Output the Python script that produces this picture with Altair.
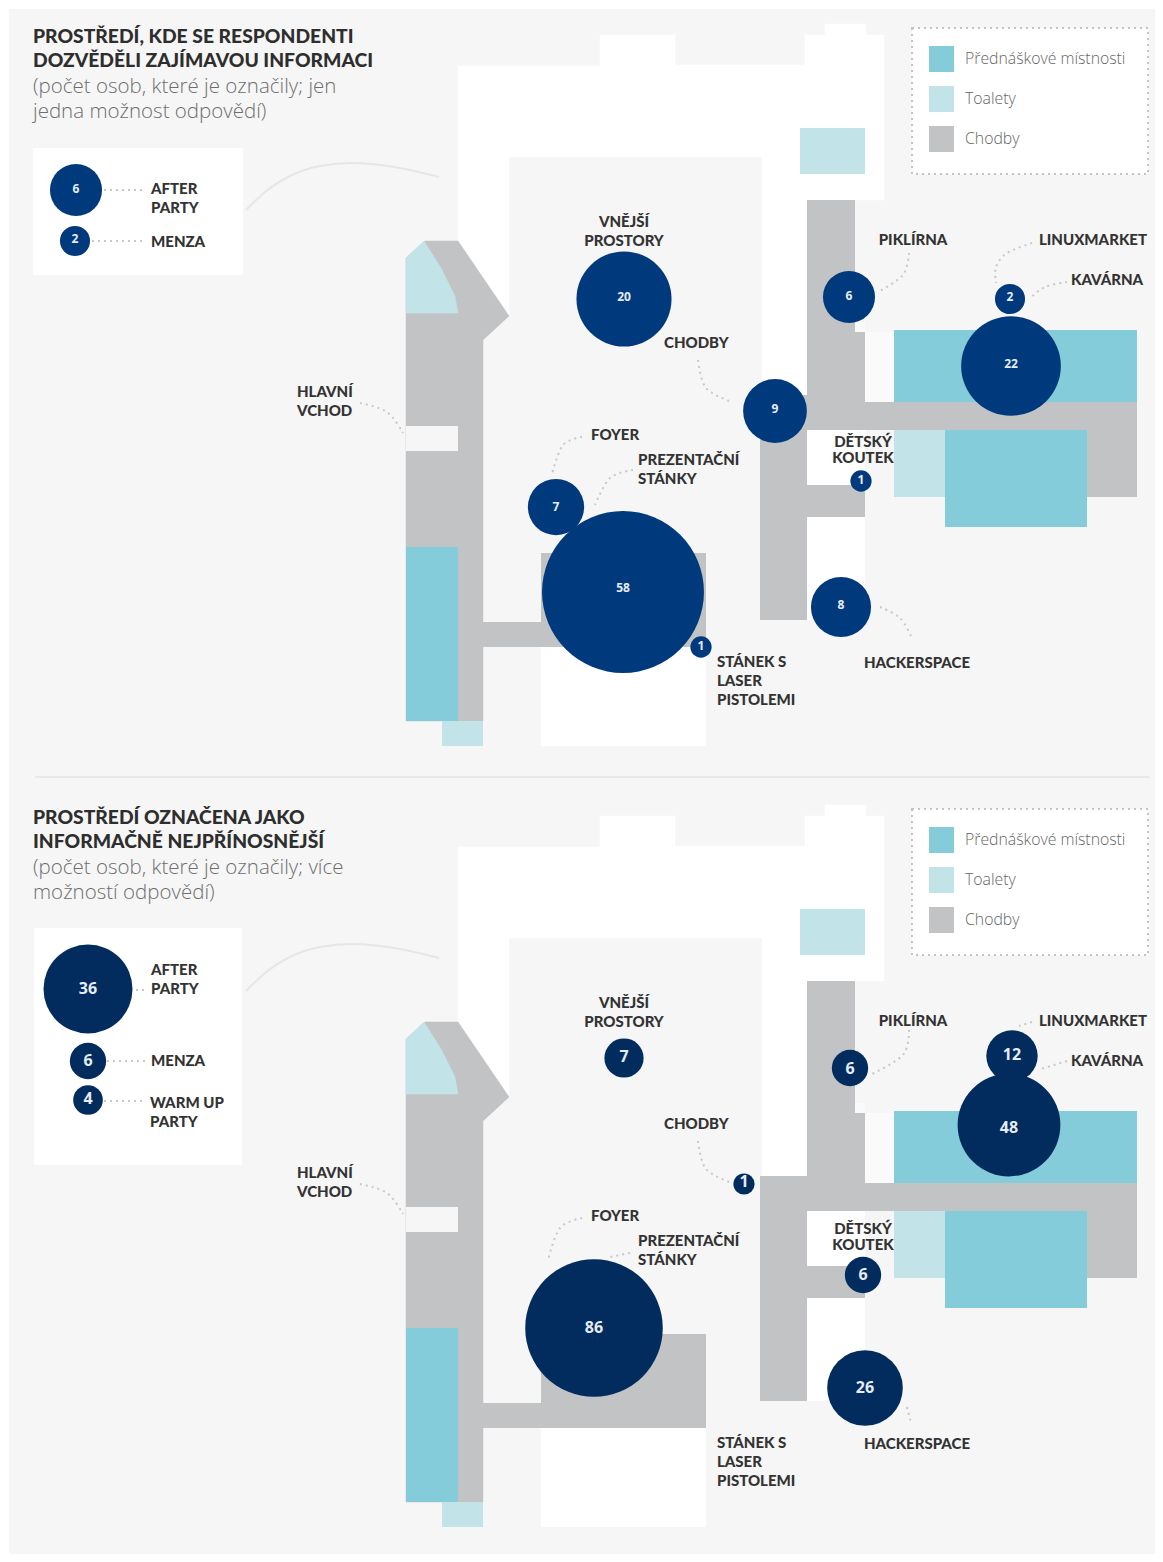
import altair as alt
import pandas as pd

# ---- floor plan (map coordinates; second panel repeats it lower on the page) ----
PANEL_SHIFT = 781
BG, WHITE, GRAY, TEAL, LIGHT = "#f6f6f6", "#ffffff", "#c2c3c5", "#84ccd9", "#c2e3e8"
PALE = "#fafafb"
DARK1, DARK2 = "#003a7d", "#022c5e"

outline_x = [458, 600, 600, 675, 675, 805, 805, 825, 825, 866, 866, 884, 884, 807, 807, 762, 762, 509, 509, 458]
outline_y = [66, 66, 35, 35, 65, 65, 35, 35, 24, 24, 35, 35, 200, 200, 395, 395, 157, 157, 315, 241]
lobby_x = [425, 458, 509, 483, 483, 406, 406]
lobby_y = [241, 241, 316, 340, 721, 721, 258]
wc_x = [406, 424, 441, 455, 458, 406]
wc_y = [258, 241, 268, 296, 313, 313]

rooms = [  # x, x2, y, y2, colour
    (800, 865, 128, 174, LIGHT),
    (854, 865, 322, 332, PALE),
    (865, 894, 332, 402, PALE),
    (807, 865, 430, 485, WHITE),
    (807, 865, 517, 620, WHITE),
    (541, 706, 647, 746, WHITE),
    (406, 458, 426, 451, BG),
    (406, 458, 547, 721, TEAL),
    (442, 483, 721, 746, LIGHT),
    (483, 541, 622, 647, GRAY),
    (541, 706, 553, 647, GRAY),
    (807, 855, 200, 332, GRAY),
    (807, 865, 332, 402, GRAY),
    (760, 807, 395, 620, GRAY),
    (807, 1137, 402, 430, GRAY),
    (1087, 1137, 402, 497, GRAY),
    (807, 865, 485, 517, GRAY),
    (894, 1137, 330, 402, TEAL),
    (894, 945, 430, 497, LIGHT),
    (945, 1087, 430, 527, TEAL),
]

# ---- survey values ----
p1_values = [6, 2, 20, 6, 2, 22, 9, 1, 8, 7, 58, 1]
p1_cx = [76, 75, 624, 849, 1010, 1011, 775, 861, 841, 556, 623, 701]
p1_cy = [190, 241, 299, 297, 299, 366, 411, 481, 607, 507, 592, 647]
p1_ty = [189, 239, 297, 296, 297, 364, 409, 480, 605, 507, 588, 646]
p2_values = [36, 6, 4, 7, 6, 12, 48, 1, 6, 26, 86]
p2_cx = [88, 88, 88, 624, 850, 1012, 1009, 744, 863, 865, 594]
p2_cy = [989, 1061, 1100, 1058, 1068, 1056, 1125, 1184, 1275, 1388, 1328]
p2_ty = [989, 1061, 1099, 1057, 1069, 1055, 1128, 1182, 1275, 1388, 1328]
AREA1, AREA2, MIN_SIZE = 452, 220, 450

left_labels = [
    ("AFTER", 151, 189), ("PARTY", 151, 208), ("MENZA", 151, 242),
    ("LINUXMARKET", 1039, 240), ("KAVÁRNA", 1071, 280), ("CHODBY", 664, 343),
    ("HLAVNÍ", 297, 392), ("VCHOD", 297, 411), ("FOYER", 591, 435),
    ("PREZENTAČNÍ", 638, 460), ("STÁNKY", 638, 479),
    ("STÁNEK S", 717, 662), ("LASER", 717, 681), ("PISTOLEMI", 717, 700),
    ("HACKERSPACE", 864, 663),
]
center_labels = [
    ("VNĚJŠÍ", 624, 222), ("PROSTORY", 624, 241), ("PIKLÍRNA", 913, 240),
    ("DĚTSKÝ", 863, 442), ("KOUTEK", 863, 458),
]
titles = [("PROSTŘEDÍ, KDE SE RESPONDENTI", 33, 37), ("DOZVĚDĚLI ZAJÍMAVOU INFORMACI", 33, 61),
          ("PROSTŘEDÍ OZNAČENA JAKO", 33, 818), ("INFORMAČNĚ NEJPŘÍNOSNĚJŠÍ", 33, 842)]
subtitles = [("(počet osob, které je označily; jen", 33, 86.5), ("jedna možnost odpovědí)", 33, 111.5),
             ("(počet osob, které je označily; více", 33, 867.5), ("možností odpovědí)", 33, 892.5)]
legend_names = ["Přednáškové místnosti", "Toalety", "Chodby"]
legend_colors = [TEAL, LIGHT, GRAY]
legend_y = [59, 99, 139]

# leader lines of the first panel, then of the second
leaders = [
    [(104, 190), (145, 190)], [(92, 241), (145, 241)],
    [(360, 403), (387, 412), (403, 433)], [(698, 360), (706, 388), (732, 402)],
    [(909, 253), (903, 275), (878, 292)], [(1032, 243), (1007, 253), (996, 267), (996, 283)],
    [(1067, 282), (1045, 287), (1030, 298)], [(582, 437), (563, 445), (552, 474)],
    [(633, 470), (610, 478), (595, 505)], [(880, 607), (900, 618), (912, 638)],
    [(136, 990), (145, 990)], [(107, 1061), (145, 1061)], [(104, 1101), (145, 1101)],
    [(360, 1184), (387, 1193), (403, 1214)], [(698, 1141), (706, 1169), (732, 1183)],
    [(909, 1030), (903, 1055), (870, 1075)], [(1032, 1022), (1019, 1026)],
    [(1067, 1061), (1041, 1069)], [(582, 1218), (560, 1228), (548, 1260)],
    [(630, 1253), (610, 1257)], [(907, 1407), (911, 1423)],
]
arc_x = [246, 265, 290, 320, 352, 400, 439]
arc_y = [210, 192, 176, 166, 163, 168, 177]

# ---- scales ----
X = dict(scale=alt.Scale(domain=[8, 1155], nice=False, zero=False), axis=None, title=None)
Y = dict(scale=alt.Scale(domain=[1554, 8], nice=False, zero=False), axis=None, title=None)
FONT_H = "Lato"
FONT_B = "Open Sans"


def rect_layer(rows):
    df = pd.DataFrame(rows, columns=["x", "x2", "y", "y2", "c"])
    return alt.Chart(df).mark_rect(strokeWidth=0).encode(
        x=alt.X("x:Q", **X), x2="x2:Q", y=alt.Y("y:Q", **Y), y2="y2:Q",
        color=alt.Color("c:N", scale=None))


def path_df(xs, ys, shifts=(0, PANEL_SHIFT)):
    rows = []
    for p, s in enumerate(shifts):
        for i, (a, b) in enumerate(zip(xs, ys)):
            rows.append(dict(x=a, y=b + s, i=i, p=p))
    return pd.DataFrame(rows)


def poly_layer(xs, ys, colour):
    return alt.Chart(path_df(xs, ys)).mark_line(
        fill=colour, stroke=colour, strokeWidth=0.5, interpolate="linear-closed").encode(
        x=alt.X("x:Q", **X), y=alt.Y("y:Q", **Y), order="i:Q", detail="p:N")


def text_layer(rows, size, weight, colour, align="left", font=FONT_H):
    df = pd.DataFrame(rows, columns=["t", "x", "y"])
    return alt.Chart(df).mark_text(
        align=align, baseline="middle", fontSize=size, fontWeight=weight, color=colour, font=font
    ).encode(x=alt.X("x:Q", **X), y=alt.Y("y:Q", **Y), text="t:N")


def double(rows):
    return rows + [(t, x, y + PANEL_SHIFT) for t, x, y in rows]


layers = []
layers.append(rect_layer([(9, 1155, 9, 1554, BG)]))
layers.append(poly_layer(outline_x, outline_y, WHITE))
layers.append(poly_layer(lobby_x, lobby_y, GRAY))
layers.append(poly_layer(wc_x, wc_y, LIGHT))

room_rows = []
for s in (0, PANEL_SHIFT):
    room_rows += [(a, b, c + s, d + s, col) for a, b, c, d, col in rooms]
room_rows.append((33, 243, 148, 275, WHITE))
room_rows.append((34, 242, 928, 1165, WHITE))
layers.append(rect_layer(room_rows))

# divider
layers.append(alt.Chart(pd.DataFrame(dict(x=[35], x2=[1150], y=[777]))).mark_rule(
    color="#e9e9e9", strokeWidth=2).encode(x=alt.X("x:Q", **X), x2="x2:Q", y=alt.Y("y:Q", **Y)))

# arc from the side box to the building
layers.append(alt.Chart(path_df(arc_x, arc_y)).mark_line(
    color="#e6e6e6", strokeWidth=2, interpolate="monotone").encode(
    x=alt.X("x:Q", **X), y=alt.Y("y:Q", **Y), order="i:Q", detail="p:N"))

# legend boxes (dotted)
box_rows = []
swatch_rows = []
for s in (0, PANEL_SHIFT):
    box_rows.append((912, 1148, 28 + s, 174 + s, WHITE))
    for yy, col in zip(legend_y, legend_colors):
        swatch_rows.append((929, 954, yy - 13 + s, yy + 13 + s, col))
boxes = pd.DataFrame(box_rows, columns=["x", "x2", "y", "y2", "c"])
layers.append(alt.Chart(boxes).mark_rect(
    fill=WHITE, stroke="#c4c4c4", strokeWidth=2, strokeDash=[2, 4]).encode(
    x=alt.X("x:Q", **X), x2="x2:Q", y=alt.Y("y:Q", **Y), y2="y2:Q"))
layers.append(rect_layer(swatch_rows))
layers.append(text_layer(double([(n, 965, yy) for n, yy in zip(legend_names, legend_y)]),
                         15.8, 300, "#666666", font=FONT_B))

# leaders
lead_rows = []
for k, pts in enumerate(leaders):
    for i, (a, b) in enumerate(pts):
        lead_rows.append(dict(x=a, y=b, i=i, k=k))
layers.append(alt.Chart(pd.DataFrame(lead_rows)).mark_line(
    color="#c8c8c8", strokeWidth=2, strokeDash=[2, 4], interpolate="cardinal").encode(
    x=alt.X("x:Q", **X), y=alt.Y("y:Q", **Y), order="i:Q", detail="k:N"))


# circles: area follows the number of respondents
def circles(values, cx, cy, ty, area, colour, fsize):
    df = pd.DataFrame(dict(v=values, x=cx, y=cy, ty=ty))
    df["s"] = [max(v * area, MIN_SIZE) for v in values]
    base = alt.Chart(df)
    dots = base.mark_point(filled=True, opacity=1, color=colour, strokeWidth=0, shape="circle").encode(
        x=alt.X("x:Q", **X), y=alt.Y("y:Q", **Y), size=alt.Size("s:Q", scale=None))
    nums = base.mark_text(align="center", baseline="middle", color="#e6edf5", fontWeight="bold",
                          fontSize=fsize, font=FONT_B).encode(
        x=alt.X("x:Q", **X), y=alt.Y("ty:Q", **Y), text="v:Q")
    return [dots, nums]


layers += circles(p1_values, p1_cx, p1_cy, p1_ty, AREA1, DARK1, 12)
layers += circles(p2_values, p2_cx, p2_cy, p2_ty, AREA2, DARK2, 16)

# texts
layers.append(text_layer(titles, 19.3, 900, "#2e2e2e"))
layers.append(text_layer(subtitles, 20.5, 300, "#6e6e6e", font=FONT_B))
second_left = [r for r in left_labels if r[0] not in ("AFTER", "PARTY", "MENZA")]
panel2_left = [(t, x, y + PANEL_SHIFT) for t, x, y in second_left] + [
    ("AFTER", 151, 970), ("PARTY", 151, 989), ("MENZA", 151, 1061),
    ("WARM UP", 150, 1103), ("PARTY", 150, 1122)]
layers.append(text_layer(left_labels + panel2_left, 15, 900, "#333333"))
panel2_center = [("VNĚJŠÍ", 624, 1003), ("PROSTORY", 624, 1022), ("PIKLÍRNA", 913, 1021),
                 ("DĚTSKÝ", 863, 1229), ("KOUTEK", 863, 1245)]
layers.append(text_layer(center_labels + panel2_center, 15, 900, "#333333", align="center"))

chart = alt.layer(*layers).properties(
    width=1147, height=1546, padding=0, autosize=alt.AutoSizeParams(type="none")
).configure_view(stroke=None)

chart.save("out.html", embed_options={"renderer": "svg", "actions": False})
